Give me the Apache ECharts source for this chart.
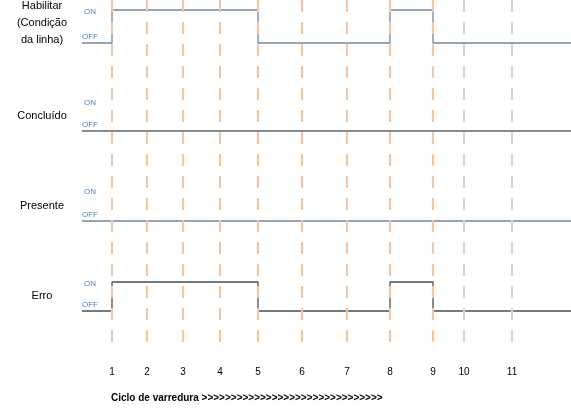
<!DOCTYPE html>
<html lang="pt" style="height: 100%">
<head>
  <meta charset="utf-8">
</head>
<body style="height: 100%; margin: 0">
  <div id="container" style="width: 571px; height: 409px"></div>
  <script type="text/javascript" src="https://fastly.jsdelivr.net/npm/echarts@6/dist/echarts.min.js"></script>
  <script type="text/javascript">
    // scan cycle marks along the time axis (cycle 1..11)
    var cycleLabels = ['1', '2', '3', '4', '5', '6', '7', '8', '9', '10', '11'];
    var cyclePos = [112, 147, 183, 220, 258, 302, 347, 390, 433, 464, 512];
    var grayCycles = ['10', '11'];

    var signalNames = ['Habilitar\n(Condição\nda linha)', 'Concluído', 'Presente', 'Erro'];
    var offLevel = [43, 131, 221, 311];
    var onLevel = [10, 101, 190, 282];
    var lineColors = ['#6d86a3', '#5c6470', '#6d86a3', '#4a4f57'];
    // cycles (1-based) at which each signal toggles, starting from OFF
    var toggles = [[1, 5, 8, 9], [], [], [1, 5, 8, 9]];
    var xStart = 82, xEnd = 571;

    var dom = document.getElementById('container');
    var myChart = echarts.init(dom, null, { renderer: 'canvas' });

    var series = signalNames.map(function (name, i) {
      var state = 0;
      var pts = [[xStart, offLevel[i]]];
      toggles[i].forEach(function (c) {
        state = 1 - state;
        pts.push([cyclePos[c - 1], state ? onLevel[i] : offLevel[i]]);
      });
      pts.push([xEnd, state ? onLevel[i] : offLevel[i]]);
      return {
        type: 'line', step: 'end', data: pts, symbol: 'none', z: 2,
        lineStyle: { color: lineColors[i], width: 1.3 }
      };
    });

    series.push({
      type: 'line', data: [], silent: true, z: 3,
      markLine: {
        symbol: 'none', silent: true, label: { show: false },
        data: cyclePos.map(function (p, i) {
          var gray = grayCycles.indexOf(cycleLabels[i]) >= 0;
          return {
            xAxis: p,
            lineStyle: { color: gray ? '#d6d6d6' : '#f3c6a6', width: 2.2, type: [12, 10] }
          };
        })
      }
    });

    var font = '"Liberation Sans", Arial';
    var graphic = [];
    signalNames.forEach(function (name, i) {
      graphic.push({
        type: 'text', x: 42, y: (i === 0 ? 23 : offLevel[i] - 15), style: {
          text: name, align: 'center', verticalAlign: 'middle',
          font: '11px ' + font, fill: '#000', lineHeight: 17
        }
      });
      graphic.push({
        type: 'text', x: 84, y: onLevel[i] + 2, style: { text: 'ON', verticalAlign: 'middle',
          font: '8px ' + font, fill: '#4f81bd' }
      });
      graphic.push({
        type: 'text', x: 82, y: offLevel[i] - 6, style: { text: 'OFF', verticalAlign: 'middle',
          font: '8px ' + font, fill: '#4f81bd' }
      });
    });
    graphic.push({
      type: 'text', x: 111, y: 398, style: { text: 'Ciclo de varredura >>>>>>>>>>>>>>>>>>>>>>>>>>>>>>>',
        verticalAlign: 'middle', font: 'bold 10px ' + font, fill: '#000' }
    });

    var option = {
      animation: false,
      grid: { left: 0, right: 0, top: 0, bottom: 64 },
      xAxis: {
        type: 'value', min: 0, max: 571,
        splitLine: { show: false }, axisLine: { show: false }, axisTick: { show: false },
        axisLabel: {
          customValues: cyclePos, margin: 22, fontSize: 10, color: '#000',
          fontFamily: 'Liberation Sans',
          formatter: function (v) { return cycleLabels[cyclePos.indexOf(v)]; }
        }
      },
      yAxis: { type: 'value', inverse: true, min: 0, max: 345, show: false },
      graphic: graphic,
      series: series
    };
    myChart.setOption(option);
    window.addEventListener('resize', myChart.resize);
  </script>
</body>
</html>
